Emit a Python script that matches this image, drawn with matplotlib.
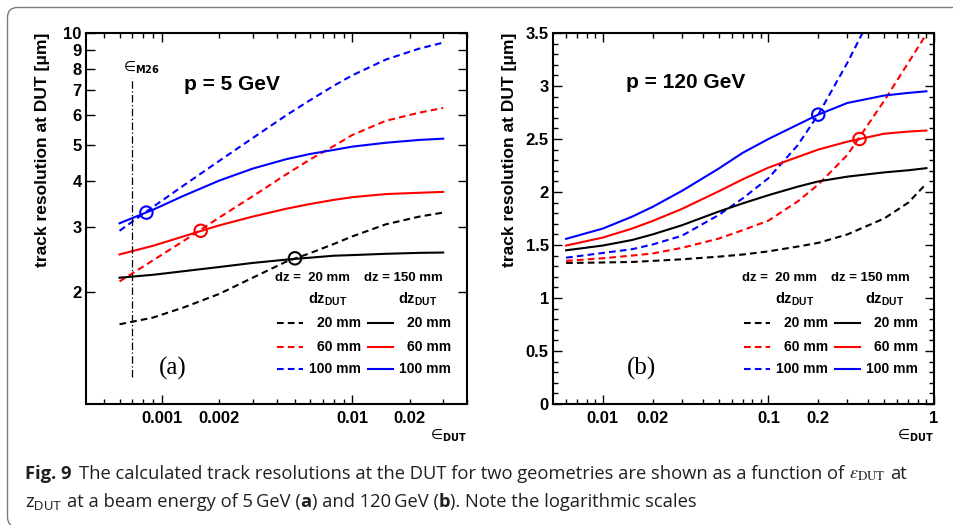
import matplotlib
matplotlib.use("Agg")
import matplotlib.pyplot as plt
from matplotlib.ticker import FixedLocator, FuncFormatter, NullFormatter
from matplotlib.patches import FancyBboxPatch
from matplotlib.transforms import IdentityTransform

plt.rcParams['font.family'] = ['Liberation Sans', 'DejaVu Sans']
plt.rcParams['mathtext.fontset'] = 'custom'
plt.rcParams['mathtext.rm'] = 'Liberation Sans'
plt.rcParams['mathtext.bf'] = 'Liberation Sans:bold'
plt.rcParams['mathtext.it'] = 'Liberation Sans:italic'
plt.rcParams['mathtext.sf'] = 'Liberation Sans'

# ---------------- data: panel (a), p = 5 GeV ----------------
eps_a = [0.0006, 0.0009, 0.0013, 0.002, 0.003, 0.0045, 0.006, 0.008, 0.01, 0.015, 0.0225, 0.03]
a_dash_20 = [1.64, 1.71, 1.82, 1.98, 2.19, 2.42, 2.55, 2.70, 2.83, 3.05, 3.20, 3.28]
a_dash_60 = [2.14, 2.44, 2.75, 3.18, 3.63, 4.16, 4.56, 4.96, 5.31, 5.80, 6.10, 6.28]
a_dash_100 = [2.93, 3.40, 3.88, 4.52, 5.21, 6.00, 6.59, 7.21, 7.69, 8.48, 9.08, 9.42]
a_sol_20 = [2.19, 2.23, 2.28, 2.34, 2.40, 2.45, 2.48, 2.51, 2.52, 2.54, 2.555, 2.56]
a_sol_60 = [2.53, 2.67, 2.83, 3.03, 3.20, 3.36, 3.46, 3.55, 3.61, 3.68, 3.71, 3.73]
a_sol_100 = [3.07, 3.34, 3.64, 4.00, 4.31, 4.57, 4.72, 4.84, 4.94, 5.06, 5.15, 5.19]
a_circ_x = [0.0050, 0.0016, 0.00083]
a_circ_y = [2.47, 2.93, 3.28]
eps_m26 = 0.0007

# ---------------- data: panel (b), p = 120 GeV ----------------
eps_b = [0.006, 0.01, 0.015, 0.02, 0.03, 0.05, 0.07, 0.1, 0.15, 0.2, 0.3, 0.5, 0.7, 0.9]
b_dash_20 = [1.33, 1.335, 1.34, 1.35, 1.365, 1.39, 1.41, 1.44, 1.485, 1.52, 1.60, 1.75, 1.90, 2.08]
b_dash_60 = [1.35, 1.375, 1.40, 1.42, 1.473, 1.56, 1.64, 1.73, 1.91, 2.07, 2.35, 2.86, 3.22, 3.49]
eps_b100 = [0.006, 0.01, 0.015, 0.02, 0.03, 0.05, 0.07, 0.1, 0.15, 0.2, 0.3, 0.37]
b_dash_100 = [1.38, 1.425, 1.46, 1.505, 1.587, 1.782, 1.94, 2.13, 2.44, 2.73, 3.22, 3.50]
b_sol_20 = [1.45, 1.495, 1.547, 1.60, 1.686, 1.815, 1.893, 1.97, 2.05, 2.10, 2.145, 2.185, 2.205, 2.225]
b_sol_60 = [1.495, 1.57, 1.655, 1.727, 1.84, 2.006, 2.12, 2.23, 2.33, 2.40, 2.475, 2.55, 2.57, 2.58]
b_sol_100 = [1.558, 1.655, 1.767, 1.86, 2.01, 2.22, 2.37, 2.50, 2.635, 2.73, 2.84, 2.91, 2.935, 2.95]
b_circ_x = [0.2, 0.355]
b_circ_y = [2.73, 2.50]

dz_labels = ['20 mm', '60 mm', '100 mm']
colors = ['black', '#ff0000', '#0000ff']

W, H = 954, 525
fig = plt.figure(figsize=(W / 100, H / 100), dpi=100)
fig.patch.set_facecolor('white')

ax_a = fig.add_axes([86 / W, 1 - 404 / H, 381 / W, 371 / H])
ax_b = fig.add_axes([553 / W, 1 - 404 / H, 381 / W, 371 / H])

LW = 1.5
DASH = (0, (3.2, 2.0))
TICKFS = 12
EPS = '\u2208'


def style_axes(ax):
    for s in ax.spines.values():
        s.set_linewidth(1.5)
    ax.tick_params(which='both', direction='in', top=True, right=True,
                   width=1.0, labelsize=TICKFS)
    ax.tick_params(which='major', length=6.5)
    ax.tick_params(which='minor', length=3.5)
    ax.tick_params(axis='x', which='both', pad=5)
    ax.tick_params(axis='y', which='both', pad=3)
    for lab in ax.get_xticklabels(which='both') + ax.get_yticklabels(which='both'):
        lab.set_fontweight('bold')


def legend(ax):
    tr = ax.transAxes
    ax.text(0.496, 0.340, 'dz =  20 mm', transform=tr, ha='left', va='center',
            fontsize=9.5, fontweight='bold')
    ax.text(0.730, 0.340, 'dz = 150 mm', transform=tr, ha='left', va='center',
            fontsize=9.5, fontweight='bold')
    for xx in (0.583, 0.820):
        ax.text(xx, 0.283, r'dz$_{\mathbf{DUT}}$', transform=tr, ha='left',
                va='center', fontsize=10.5, fontweight='bold')
    rows = [0.2175, 0.1544, 0.0935]
    for lab, c, yy in zip(dz_labels, colors, rows):
        ax.plot([0.502, 0.569], [yy, yy], transform=tr, color=c, lw=LW, ls=DASH)
        ax.text(0.722, yy, lab, transform=tr, ha='right', va='center',
                fontsize=10, fontweight='bold')
        ax.plot([0.741, 0.805], [yy, yy], transform=tr, color=c, lw=LW)
        ax.text(0.958, yy, lab, transform=tr, ha='right', va='center',
                fontsize=10, fontweight='bold')


def eps_label(ax, x, y, sub, ha):
    ax.text(x, y, EPS + r'$_{\mathbf{' + sub + '}}$', transform=ax.transAxes,
            fontsize=10, ha=ha, va='baseline', family='DejaVu Sans',
            math_fontfamily='dejavusans')


def xfmt(labels):
    def f(v, pos):
        for k in labels:
            if abs(v - k) / k < 1e-6:
                return ('%g' % k)
        return ''
    return FuncFormatter(f)


# ---------------- panel (a) ----------------
ax = ax_a
for ys, c in zip([a_dash_20, a_dash_60, a_dash_100], colors):
    ax.plot(eps_a, ys, color=c, lw=LW, ls=DASH)
for ys, c in zip([a_sol_20, a_sol_60, a_sol_100], colors):
    ax.plot(eps_a, ys, color=c, lw=LW)
ax.scatter(a_circ_x, a_circ_y, s=80, facecolors='none', edgecolors=colors,
           linewidths=1.5, zorder=5)
ax.axvline(eps_m26, ymin=0.073, ymax=0.879, color='black', lw=0.9,
           ls=(0, (6, 2, 1, 2)))
ax.set_xscale('log')
ax.set_yscale('log')
ax.set_xlim(0.0004, 0.04)
ax.set_ylim(1, 10)
ax.xaxis.set_major_locator(FixedLocator([0.001, 0.01]))
ax.xaxis.set_minor_locator(FixedLocator(
    [0.0005, 0.0006, 0.0007, 0.0008, 0.0009, 0.002, 0.003, 0.004, 0.005,
     0.006, 0.007, 0.008, 0.009, 0.02, 0.03, 0.04]))
ax.xaxis.set_major_formatter(xfmt([0.001, 0.01]))
ax.xaxis.set_minor_formatter(xfmt([0.002, 0.02]))
ax.yaxis.set_major_locator(FixedLocator([2, 3, 4, 5, 6, 7, 8, 9, 10]))
ax.yaxis.set_minor_locator(FixedLocator([]))
ax.yaxis.set_major_formatter(FuncFormatter(lambda v, p: '%d' % round(v)))
ax.yaxis.set_minor_formatter(NullFormatter())
style_axes(ax)
ax.text(0.256, 0.846, 'p = 5 GeV', transform=ax.transAxes, fontsize=15,
        fontweight='bold', ha='left', va='baseline')
eps_label(ax, 0.096, 0.895, 'M26', 'left')
ax.text(0.192, 0.0957, '(a)', transform=ax.transAxes, fontsize=18,
        family=['Liberation Serif', 'DejaVu Serif'], ha='left', va='center')
legend(ax)
eps_label(ax, 1.0, -0.097, 'DUT', 'right')

# ---------------- panel (b) ----------------
ax = ax_b
ax.plot(eps_b, b_dash_20, color=colors[0], lw=LW, ls=DASH)
ax.plot(eps_b, b_dash_60, color=colors[1], lw=LW, ls=DASH)
ax.plot(eps_b100, b_dash_100, color=colors[2], lw=LW, ls=DASH)
for ys, c in zip([b_sol_20, b_sol_60, b_sol_100], colors):
    ax.plot(eps_b, ys, color=c, lw=LW)
ax.scatter(b_circ_x, b_circ_y, s=80, facecolors='none',
           edgecolors=[colors[2], colors[1]], linewidths=1.5, zorder=5)
ax.set_xscale('log')
ax.set_xlim(0.005, 1.0)
ax.set_ylim(0, 3.5)
ax.xaxis.set_major_locator(FixedLocator([0.01, 0.1, 1.0]))
ax.xaxis.set_minor_locator(FixedLocator(
    [0.006, 0.007, 0.008, 0.009, 0.02, 0.03, 0.04, 0.05, 0.06, 0.07, 0.08,
     0.09, 0.2, 0.3, 0.4, 0.5, 0.6, 0.7, 0.8, 0.9]))
ax.xaxis.set_major_formatter(xfmt([0.01, 0.1, 1.0]))
ax.xaxis.set_minor_formatter(xfmt([0.02, 0.2]))
ax.yaxis.set_major_locator(FixedLocator([0, 0.5, 1, 1.5, 2, 2.5, 3, 3.5]))
ax.yaxis.set_minor_locator(FixedLocator([i / 10 for i in range(36)]))
ax.yaxis.set_major_formatter(FuncFormatter(lambda v, p: '%g' % v))
style_axes(ax)
ax.text(0.191, 0.852, 'p = 120 GeV', transform=ax.transAxes, fontsize=15,
        fontweight='bold', ha='left', va='baseline')
ax.text(0.193, 0.0957, '(b)', transform=ax.transAxes, fontsize=18,
        family=['Liberation Serif', 'DejaVu Serif'], ha='left', va='center')
legend(ax)
eps_label(ax, 1.0, -0.097, 'DUT', 'right')

for xc in (42.7, 509.3):
    fig.text(xc / W, 1 - 33 / H, 'track resolution at DUT [\u03bcm]', rotation=90,
             ha='center', va='top', fontsize=12.5, fontweight='bold')

# ---------------- rounded frame ----------------
frame = FancyBboxPatch((7.5, -2.0), 1100, H - 7.5 + 2.0,
                       boxstyle='round,pad=0,rounding_size=10',
                       transform=IdentityTransform(), facecolor='none',
                       edgecolor='#7a7a7a', lw=1.0)
fig.add_artist(frame)

# ---------------- caption ----------------
CAPC = '#231f20'
capfam = ['Liberation Sans Narrow', 'Open Sans', 'DejaVu Sans']
line1 = [('Fig. 9', dict(fontweight='bold'), 0),
         ('The calculated track resolutions at the DUT for two geometries are shown as a function of',
          dict(), 1.6),
         (r'$\varepsilon_{\rm DUT}$', dict(math_fontfamily='stix'), 1),
         ('at', dict(), 1)]
line2 = [(r'z$_{\rm DUT}$', dict(math_fontfamily='custom'), 0),
         ('at a beam energy of 5\u2009GeV (', dict(family=['Open Sans', 'DejaVu Sans']), 1),
         ('a', dict(fontweight='bold'), 0),
         (') and 120\u2009GeV (', dict(family=['Open Sans', 'DejaVu Sans']), 0),
         ('b', dict(fontweight='bold'), 0),
         ('). Note the logarithmic scales', dict(), 0)]


def build(pieces, y, fs):
    arts = []
    for s, kw, gap in pieces:
        kk = dict(family=capfam, color=CAPC, fontsize=fs, va='baseline', ha='left')
        kk.update(kw)
        arts.append((fig.text(0, y, s, **kk), gap))
    return arts


def place(arts, x0, fs):
    r = fig.canvas.get_renderer()
    x = x0
    for t, gap in arts:
        x += gap * 0.26 * fs * 100 / 72
        t.set_x(x / W)
        t.set_fontsize(fs)
        x += t.get_window_extent(r).width
    return x


fs = 12.0
l1 = build(line1, 46 / H, fs)
l2 = build(line2, 18 / H, fs)
fig.canvas.draw()
end = place(l1, 25, fs)
fs = fs * (902 - 25) / (end - 25)
place(l1, 25, fs)
place(l2, 25, fs)

fig.savefig('out.png', dpi=100)
